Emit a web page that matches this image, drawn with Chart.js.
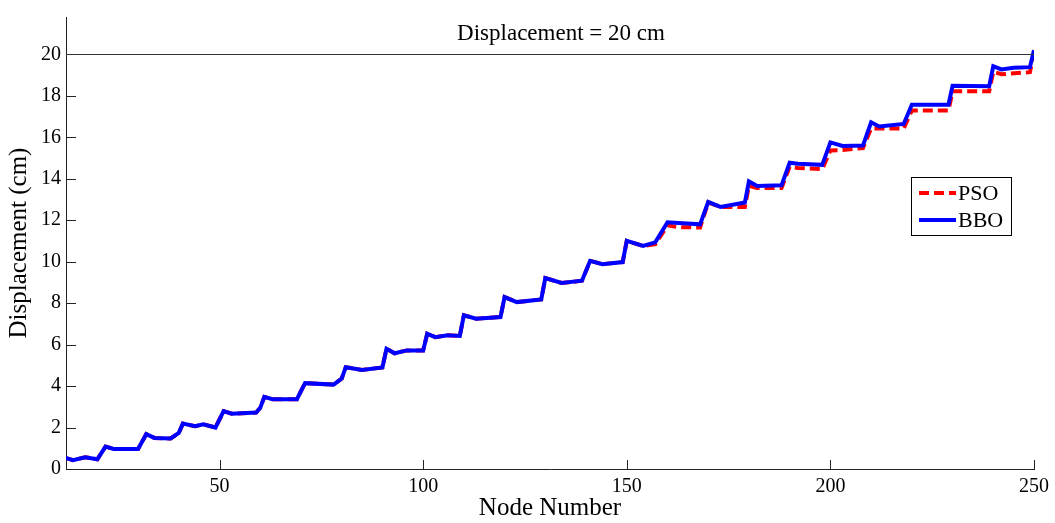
<!DOCTYPE html>
<html><head><meta charset="utf-8">
<script src="https://cdn.jsdelivr.net/npm/chart.js@4"></script>
<style>html,body{margin:0;padding:0;background:#fff}#wrap{width:1055px;height:523px}</style>
</head><body><div id="wrap"><canvas id="c" width="1055" height="523"></canvas></div>
<script>
const seriesNames = ['PSO', 'BBO'];
const bboNodes = [12,14,17,20,22,24,30,32,34,38,40,41,44,46,49,51,53,59,60,61,63,69,71,78,80,81,85,90,91,93,96,100,101,103,106,109,110,113,119,120,123,129,130,134,139,141,144,149,150,154,157,160,168,170,173,179,180,182,188,190,192,198,200,203,208,210,212,218,220,229,230,239,240,242,245,249,250];
const bboValues = [0.55,0.43,0.57,0.47,1.08,0.97,0.97,1.68,1.5,1.47,1.74,2.19,2.06,2.16,2.0,2.79,2.67,2.72,2.95,3.48,3.37,3.37,4.14,4.07,4.36,4.91,4.78,4.9,5.8,5.58,5.72,5.72,6.52,6.36,6.45,6.42,7.41,7.25,7.33,8.29,8.05,8.18,9.21,8.97,9.08,10.04,9.88,9.98,11.0,10.76,10.93,11.9,11.8,12.88,12.64,12.85,13.87,13.65,13.68,14.77,14.72,14.67,15.75,15.58,15.6,16.72,16.52,16.64,17.57,17.57,18.48,18.46,19.43,19.27,19.35,19.38,20.2];
const psoNodes = [12,14,17,20,22,24,30,32,34,38,40,41,44,46,49,51,53,59,60,61,63,69,71,78,80,81,85,90,91,93,96,100,101,103,106,109,110,113,119,120,123,129,130,134,139,141,144,149,150,154,157,160,163,168,170,173,179,180,182,188,190,192,198,200,203,208,210,218,220,229,230,239,240,242,249,250];
const psoValues = [0.55,0.43,0.57,0.47,1.08,0.97,0.97,1.68,1.5,1.47,1.74,2.19,2.06,2.16,2.0,2.79,2.67,2.72,2.95,3.48,3.37,3.37,4.14,4.07,4.36,4.91,4.78,4.9,5.8,5.58,5.72,5.72,6.52,6.36,6.45,6.42,7.41,7.25,7.33,8.29,8.05,8.18,9.21,8.97,9.08,10.04,9.88,9.98,11.0,10.76,10.84,11.75,11.66,11.65,12.85,12.64,12.64,13.66,13.55,13.55,14.58,14.52,14.46,15.36,15.38,15.48,16.42,16.42,17.29,17.29,18.22,18.22,19.16,19.04,19.14,20.05];
const xTicks = [50, 100, 150, 200, 250];
const yTicks = [0, 2, 4, 6, 8, 10, 12, 14, 16, 18, 20];
const limitValue = 20;
const limitLabel = 'Displacement = 20 cm';
const xTitle = 'Node Number';
const yTitle = 'Displacement (cm)';

const FONT = "'Liberation Serif', 'Times New Roman', serif";

function pts(nodes, vals) { return nodes.map((n, i) => ({ x: n, y: vals[i] })); }

const innerTicks = {
  id: 'innerTicks',
  afterDatasetsDraw(chart) {
    const { ctx, chartArea: a, scales: { x, y } } = chart;
    ctx.save();
    ctx.strokeStyle = '#222';
    ctx.lineWidth = 1;
    ctx.beginPath();
    xTicks.forEach(v => { const p = Math.round(x.getPixelForValue(v)) + 0.5; ctx.moveTo(p, a.bottom); ctx.lineTo(p, a.bottom - 9); });
    yTicks.forEach(v => { const p = Math.round(y.getPixelForValue(v)) + 0.5; ctx.moveTo(a.left, p); ctx.lineTo(a.left + 10, p); });
    ctx.stroke();
    const ly = Math.round(y.getPixelForValue(limitValue)) + 0.5;
    ctx.strokeStyle = '#333';
    ctx.beginPath(); ctx.moveTo(a.left, ly); ctx.lineTo(a.right, ly); ctx.stroke();
    ctx.fillStyle = '#000';
    ctx.font = '23px ' + FONT;
    ctx.textAlign = 'center'; ctx.textBaseline = 'middle';
    ctx.fillText(limitLabel, (a.left + a.right) / 2 + 11, ly - 21);
    ctx.restore();
  },
  afterDraw(chart) {
    const { ctx, chartArea: a } = chart;
    const ds = chart.data.datasets;
    const bx = a.right - 123, by = a.top + 160, bw = 100, bh = 58;
    ctx.save();
    ctx.fillStyle = '#fff';
    ctx.fillRect(bx, by, bw, bh);
    ctx.strokeStyle = '#000'; ctx.lineWidth = 1;
    ctx.strokeRect(bx + 0.5, by + 0.5, bw, bh);
    ctx.font = '22px ' + FONT;
    ctx.textAlign = 'left'; ctx.textBaseline = 'middle';
    ds.forEach((d, i) => {
      const yy = by + 16 + i * 27;
      ctx.strokeStyle = d.borderColor; ctx.lineWidth = d.borderWidth;
      ctx.setLineDash(d.borderDash || []);
      ctx.beginPath(); ctx.moveTo(bx + 8, yy); ctx.lineTo(bx + 45, yy); ctx.stroke();
      ctx.setLineDash([]);
      ctx.fillStyle = '#000';
      ctx.fillText(d.label, bx + 47, yy + 1);
    });
    ctx.restore();
  }
};

new Chart(document.getElementById('c'), {
  type: 'line',
  data: {
    datasets: [
      { label: seriesNames[0], data: pts(psoNodes, psoValues), borderColor: '#ff0000', borderWidth: 4, borderDash: [10, 5], pointRadius: 0, fill: false, tension: 0, order: 2 },
      { label: seriesNames[1], data: pts(bboNodes, bboValues), borderColor: '#0000ff', borderWidth: 4, pointRadius: 0, fill: false, tension: 0, order: 1 }
    ]
  },
  options: {
    responsive: false, animation: false, devicePixelRatio: 1,
    layout: { padding: { left: 0, top: 14, right: 20, bottom: 0 } },
    plugins: { legend: { display: false }, tooltip: { enabled: false } },
    scales: {
      x: {
        type: 'linear', min: 12.3, max: 250,
        afterBuildTicks: s => { s.ticks = xTicks.map(v => ({ value: v })); },
        afterFit: s => { s.height = 54; },
        grid: { display: false, drawTicks: false },
        border: { display: true, color: '#222', width: 1 },
        ticks: { color: '#000', font: { family: FONT, size: 20 }, padding: 6, maxRotation: 0 },
        title: { display: true, text: xTitle, color: '#000', font: { family: FONT, size: 25 }, padding: { top: 0, bottom: 0 } }
      },
      y: {
        type: 'linear', min: 0, max: 21.8,
        afterBuildTicks: s => { s.ticks = yTicks.map(v => ({ value: v })); },
        afterFit: s => { s.width = 66; },
        grid: { display: false, drawTicks: false },
        border: { display: true, color: '#222', width: 1 },
        ticks: { color: '#000', font: { family: FONT, size: 20 }, padding: 5 },
        title: { display: true, text: yTitle, color: '#000', font: { family: FONT, size: 25 }, padding: { top: 4, bottom: 0 } }
      }
    }
  },
  plugins: [innerTicks]
});
</script>
</body></html>
